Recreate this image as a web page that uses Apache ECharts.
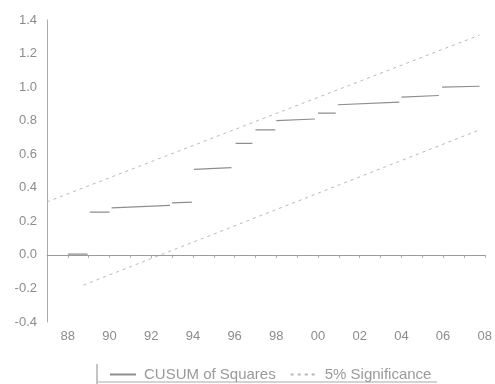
<!DOCTYPE html>
<html>
<head>
<meta charset="utf-8">
<script src="https://cdn.jsdelivr.net/npm/echarts@6/dist/echarts.min.js"></script>
<style>
html,body{margin:0;padding:0;background:#fff;}
#c{width:495px;height:384px;}
</style>
</head>
<body>
<div id="c"></div>
<script>
// CUSUM of Squares: piecewise flat stretches (start year, end year, value at start, value at end)
var cusumStart = [1988.0, 1989.05, 1990.1, 1993.0, 1994.05, 1996.05, 1997.0, 1998.0, 2000.0, 2000.95, 2004.0, 2005.95];
var cusumEnd   = [1988.95, 1990.0, 1992.9, 1993.95, 1995.85, 1996.85, 1997.95, 1999.85, 2000.85, 2003.9, 2005.8, 2007.75];
var cusumFrom  = [0.005, 0.255, 0.28, 0.31, 0.51, 0.665, 0.745, 0.80, 0.845, 0.895, 0.94, 1.0];
var cusumTo    = [0.005, 0.255, 0.295, 0.315, 0.52, 0.665, 0.745, 0.81, 0.845, 0.91, 0.95, 1.005];

// 5% significance bands
var upperYears = [1987.0, 2007.75];
var upperVals  = [0.316, 1.31];
var lowerYears = [1988.75, 2007.75];
var lowerVals  = [-0.18, 0.745];

var legendNames = ['CUSUM of Squares', '5% Significance'];

var cusumData = [];
for (var i = 0; i < cusumStart.length; i++) {
  if (i > 0) cusumData.push([(cusumEnd[i-1] + cusumStart[i]) / 2, '-']);
  cusumData.push([cusumStart[i], cusumFrom[i]]);
  cusumData.push([cusumEnd[i], cusumTo[i]]);
}
function pairs(xs, ys){ return xs.map(function(x, k){ return [x, ys[k]]; }); }

var chart = echarts.init(document.getElementById('c'), null, {renderer:'canvas'});
var font = 'Liberation Sans, Arial, sans-serif';
chart.setOption({
  animation: false,
  backgroundColor: '#ffffff',
  grid: {left: 47, right: 7, top: 20, bottom: 62},
  xAxis: {
    type: 'value', min: 1987, max: 2008, interval: 1,
    axisLine: {show: true, lineStyle: {color: '#aaaaaa', width: 1}},
    axisTick: {show: true, inside: false, length: 3, lineStyle: {color: '#aaaaaa'}},
    splitLine: {show: false},
    axisLabel: {
      color: '#8c8c8c', fontSize: 13, fontFamily: font, margin: 8,
      formatter: function(v){ v = Math.round(v); return (v % 2 === 0) ? String(v % 100).padStart(2,'0') : ''; }
    }
  },
  yAxis: {
    type: 'value', min: -0.4, max: 1.4, interval: 0.2,
    axisLine: {show: true, lineStyle: {color: '#aaaaaa', width: 1}},
    axisTick: {show: false},
    splitLine: {show: false},
    axisLabel: {
      color: '#8c8c8c', fontSize: 13, fontFamily: font, margin: 10,
      formatter: function(v){ return v.toFixed(1); }
    }
  },
  legend: {
    left: 104, top: 362, itemWidth: 26, itemHeight: 10, itemGap: 14,
    itemStyle: {opacity: 0},
    textStyle: {color: '#9a9a9a', fontSize: 15, fontFamily: font, padding: [0,0,0,3]},
    data: legendNames
  },
  graphic: [
    {type: 'line', shape: {x1: 97, y1: 364, x2: 97, y2: 384}, style: {stroke: '#c4c4c4', lineWidth: 2}, silent: true},
    {type: 'line', shape: {x1: 97, y1: 382, x2: 437, y2: 382}, style: {stroke: '#c4c4c4', lineWidth: 1.5}, silent: true}
  ],
  series: [
    {
      name: legendNames[0], type: 'line', data: cusumData, symbol: 'none', connectNulls: false,
      lineStyle: {color: '#8e8e8e', width: 1.2},
      itemStyle: {color: '#8e8e8e'},
      markLine: {
        silent: true, symbol: 'none', label: {show: false},
        lineStyle: {color: '#9a9a9a', type: 'solid', width: 1},
        data: [{yAxis: 0}]
      }
    },
    {
      name: legendNames[1], type: 'line', data: pairs(upperYears, upperVals), symbol: 'none',
      lineStyle: {color: '#b8b8b8', width: 1, type: [3, 4]},
      itemStyle: {color: '#b8b8b8'}
    },
    {
      name: legendNames[1], type: 'line', data: pairs(lowerYears, lowerVals), symbol: 'none',
      lineStyle: {color: '#b8b8b8', width: 1, type: [3, 4]},
      itemStyle: {color: '#b8b8b8'}
    }
  ]
});
</script>
</body>
</html>
